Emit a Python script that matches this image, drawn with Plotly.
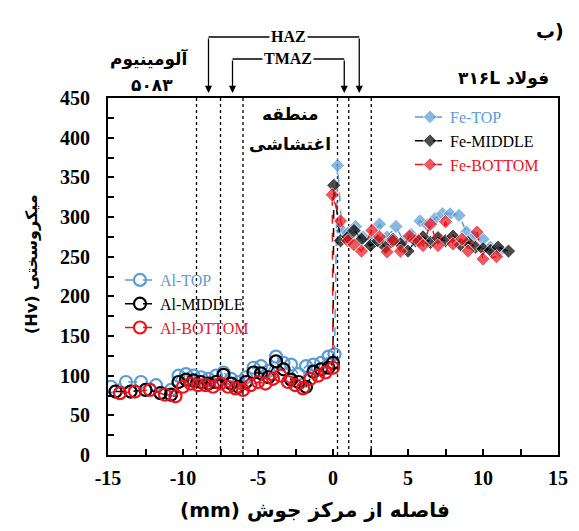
import plotly.graph_objects as go

# ---------------- data ----------------
al_top_x = [-14.8, -13.8, -12.8, -11.8, -10.8, -10.3, -9.8, -9.3, -8.8, -8.3, -7.8, -7.3, -6.8, -6.3,
            -5.8, -5.3, -4.8, -4.3, -3.8, -3.3, -2.8, -2.3, -1.8, -1.3, -0.8, -0.3, 0.1]
al_top_y = [86, 92, 92, 88, 82, 100, 102, 100, 98, 96, 100, 104, 96, 92,
            98, 110, 112, 106, 124, 116, 114, 102, 112, 114, 116, 124, 127]

al_mid_x = [-14.5, -13.5, -12.5, -11.5, -10.8, -10.3, -9.8, -9.3, -8.8, -8.3, -7.8, -7.3, -6.8, -6.3,
            -5.8, -5.3, -4.8, -4.3, -3.8, -3.3, -2.8, -2.3, -1.8, -1.3, -0.8, -0.3, 0.0]
al_mid_y = [80, 80, 82, 78, 76, 92, 95, 94, 92, 90, 92, 101, 90, 86,
            92, 104, 103, 98, 118, 108, 95, 92, 86, 105, 108, 110, 116]

al_bot_x = [-14.2, -13.2, -12.2, -11.2, -10.5, -10.0, -9.5, -9.0, -8.5, -8.0, -7.5, -7.0, -6.5,
            -6.0, -5.5, -5.0, -4.5, -4.0, -3.5, -3.0, -2.5, -2.0, -1.5, -1.0, -0.5, 0.0]
al_bot_y = [78, 80, 82, 76, 74, 86, 90, 88, 88, 86, 90, 86, 84,
            82, 88, 92, 90, 96, 100, 92, 88, 84, 96, 100, 104, 110]

# first Fe value of each list is the junction with the Al side (no marker drawn)
fe_top_x = [0.1, 0.3, 0.6, 1.0, 1.5, 2.0, 2.5, 3.1, 3.6, 4.2, 4.7, 5.2, 5.8, 6.3, 6.8, 7.3, 7.8, 8.4,
            8.9, 9.4, 10.0, 10.5, 11.1]
fe_top_y = [127, 365, 283, 280, 288, 275, 270, 291, 275, 288, 270, 278, 295, 290, 298, 304, 304, 302,
            281, 275, 272, 262, 257]

fe_mid_x = [0.0, 0.05, 0.5, 1.0, 1.4, 1.9, 2.5, 3.0, 3.5, 4.0, 4.5, 5.0, 5.5, 6.0, 6.5, 7.0, 7.5, 8.0,
            8.5, 9.0, 9.5, 10.0, 10.5, 11.0, 11.7]
fe_mid_y = [116, 340, 270, 275, 283, 272, 264, 270, 262, 272, 266, 257, 270, 275, 268, 274, 270, 276,
            265, 268, 262, 260, 258, 262, 257]

fe_bot_x = [0.0, -0.05, 0.5, 1.0, 1.4, 1.9, 2.6, 3.1, 3.6, 4.0, 4.5, 5.1, 5.7, 6.0, 6.5, 7.0, 7.5, 8.0,
            8.6, 9.0, 9.6, 10.0, 10.9]
fe_bot_y = [110, 328, 295, 270, 265, 257, 283, 275, 256, 270, 257, 276, 270, 264, 291, 264, 294, 266,
            272, 257, 281, 247, 250]

zone_lines = [-9.1, -7.5, -6.0, 0.3, 1.05, 2.55]
haz_ends = [-8.3, 1.75]
tmaz_ends = [-6.7, 0.75]

x_ticks = [-15, -10, -5, 0, 5, 10, 15]
y_ticks = [0, 50, 100, 150, 200, 250, 300, 350, 400, 450]

BLUE = "#5b9bd5"
BLACK = "#000000"
RED = "#e8141c"

SERIF = "Liberation Serif"
FA = "DejaVu Sans"
LRM = "\u200e"

OFF = 8  # page body margin
L, R, T, B = 100, 21, 90, 76
W, H = 571, 523
pw, ph = W - L - R, H - T - B

fig = go.Figure()

def al_trace(x, y, color, name):
    return go.Scatter(
        x=x, y=y, mode="lines+markers", name=f"<span style='color:{color}'>{name}</span>",
        line=dict(color=color, dash="dash", width=1.5),
        marker=dict(symbol="circle-open", size=12, color=color, line=dict(width=2.2, color=color)),
        legend="legend")

def fe_trace(x, y, color, name):
    sizes = [0] + [11] * (len(x) - 1)
    return go.Scatter(
        x=x, y=y, mode="lines+markers", name=f"<span style='color:{color}'>{name}</span>",
        line=dict(color=color, dash="dash", width=1.5),
        marker=dict(symbol="diamond", size=sizes, color=color),
        legend="legend2")

fig.add_trace(al_trace(al_top_x, al_top_y, BLUE, "Al-TOP"))
fig.add_trace(al_trace(al_mid_x, al_mid_y, BLACK, "Al-MIDDLE"))
fig.add_trace(al_trace(al_bot_x, al_bot_y, RED, "Al-BOTTOM"))
fig.add_trace(fe_trace(fe_top_x, fe_top_y, BLUE, "Fe-TOP"))
fig.add_trace(fe_trace(fe_mid_x, fe_mid_y, BLACK, "Fe-MIDDLE"))
fig.add_trace(fe_trace(fe_bot_x, fe_bot_y, RED, "Fe-BOTTOM"))

# vertical dashed zone boundaries
for xv in zone_lines:
    fig.add_shape(type="line", xref="x", yref="paper", x0=xv, x1=xv, y0=0, y1=1,
                  line=dict(color="black", width=1.3, dash="dot"), layer="below")

def py(page_y):
    return (H - B - (page_y - OFF)) / ph

def pxx(page_x):
    return (page_x - OFF - L) / pw

# HAZ / TMAZ brackets
y_haz = py(37)
y_tmaz = py(59)
y_tip = py(93)
for ends, yl in [(haz_ends, y_haz), (tmaz_ends, y_tmaz)]:
    fig.add_shape(type="line", xref="x", yref="paper", x0=ends[0], x1=ends[1], y0=yl, y1=yl,
                  line=dict(color="black", width=1.3))
    for xe in ends:
        fig.add_annotation(x=xe, y=y_tip, xref="x", yref="paper", ax=0, ay=-(yl - y_tip) * ph,
                           showarrow=True, arrowhead=2, arrowsize=1.1, arrowwidth=1.3, arrowcolor="black",
                           text="")

fig.add_annotation(x=-3.0, y=y_haz, xref="x", yref="paper", text="<b>HAZ</b>", showarrow=False,
                   bgcolor="white", font=dict(family=SERIF, size=16, color="black"), borderpad=1,
                   xanchor="center", yanchor="middle")
fig.add_annotation(x=-3.0, y=y_tmaz, xref="x", yref="paper", text="<b>TMAZ</b>", showarrow=False,
                   bgcolor="white", font=dict(family=SERIF, size=16, color="black"), borderpad=1,
                   xanchor="center", yanchor="middle")

def px_ann(xp, yp, text, size=17, angle=0):
    fig.add_annotation(x=pxx(xp), y=py(yp), xref="paper", yref="paper", textangle=angle,
                       xanchor="center", yanchor="middle",
                       text=text, showarrow=False, font=dict(family=FA, size=size, color="black"))

# Persian labels (positions in page pixels)
px_ann(149, 59, "<b>آلومینیوم</b>")
px_ann(152, 85, "<b>۵۰۸۳</b>")
px_ann(503, 78, f"<b>{LRM}۳۱۶L فولاد</b>")
px_ann(550, 31, f"<b>{LRM}ب)</b>", 19)
px_ann(290, 114, "<b>منطقه</b>")
px_ann(290, 144, "<b>اغتشاشی</b>")
# axis titles
px_ann(315, 510, f"<b>{LRM}(mm) فاصله از مرکز جوش</b>", 20)
px_ann(31, 264, f"<b>{LRM}(Hv) میکروسختی</b>", 16, -90)

fig.update_layout(
    width=W, height=H,
    margin=dict(l=L, r=R, t=T, b=B),
    paper_bgcolor="white", plot_bgcolor="white",
    font=dict(family=SERIF, color="black"),
    showlegend=True,
    legend=dict(x=pxx(120), y=py(263), xanchor="left", yanchor="top", bgcolor="rgba(0,0,0,0)",
                font=dict(family=SERIF, size=16), tracegroupgap=0),
    legend2=dict(x=pxx(410), y=py(100), xanchor="left", yanchor="top", bgcolor="rgba(0,0,0,0)",
                 font=dict(family=SERIF, size=16), tracegroupgap=0),
    xaxis=dict(range=[-15, 15], tickvals=x_ticks, ticktext=[f"<b>{v}</b>" for v in x_ticks],
               showgrid=False, zeroline=False, showline=True, linecolor="black", linewidth=2,
               mirror=True, ticks="inside", ticklen=6, tickwidth=1.5, tickcolor="black",
               minor=dict(dtick=2.5, ticks="inside", ticklen=6, tickwidth=1.5, tickcolor="black"),
               tickfont=dict(family=SERIF, size=20, color="black"), ticklabelstandoff=4),
    yaxis=dict(range=[0, 450], tickvals=y_ticks, ticktext=[f"<b>{v}</b>" for v in y_ticks],
               showgrid=False, zeroline=False, showline=True, linecolor="black", linewidth=2,
               mirror=True, ticks="inside", ticklen=6, tickwidth=1.5, tickcolor="black",
               minor=dict(dtick=25, ticks="inside", ticklen=6, tickwidth=1.5, tickcolor="black"),
               tickfont=dict(family=SERIF, size=20, color="black"), ticklabelstandoff=12),
)

fig.write_html("out.html")
